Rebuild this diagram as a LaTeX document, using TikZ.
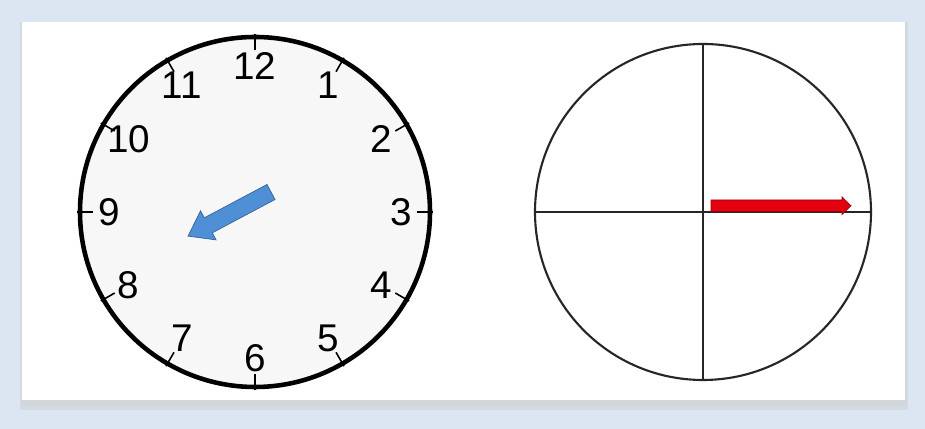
\documentclass[tikz,border=0pt]{standalone}
\usepackage{fontspec}
\setmainfont{Liberation Sans}
\usepackage{tikz}
\usetikzlibrary{calc}
\definecolor{panelblue}{HTML}{DCE6F2}
\definecolor{facegray}{HTML}{F7F7F7}
\definecolor{handblue}{HTML}{4F8FD6}
\definecolor{handred}{HTML}{E3000F}

\begin{document}
\begin{tikzpicture}
  \useasboundingbox (0,0) rectangle (18.5,8.58);
  \fill[panelblue] (0,0) rectangle (18.5,8.58);
  \fill[gray!45,opacity=0.35] (0.40,0.38) rectangle (18.16,8.14);
  \fill[gray!35,opacity=0.35] (0.42,0.46) rectangle (18.13,8.14);
  \fill[white] (0.44,0.58) rectangle (18.10,8.14);
  % left clock
  \coordinate (c1) at (5.10,4.34);
  \fill[facegray] (c1) circle (3.50);
  \foreach \h in {1,...,12}
    \draw[line width=0.9pt] ($(c1)+({90-30*\h}:3.24)$) -- ($(c1)+({90-30*\h}:3.56)$);
  \draw[line width=2.6pt] (c1) circle (3.50);
  \foreach \h in {1,...,12}
    \node[font=\fontsize{22}{22}\selectfont] (h\h) at ($(c1)+({90-30*\h}:2.92)$) {\h};
  \begin{scope}[shift={(5.42,4.74)},rotate=208]
    \fill[handblue,draw=handblue!70!black,line width=0.4pt]
      (0,-0.17) -- (1.42,-0.17) -- (1.42,-0.33) -- (1.88,0) -- (1.42,0.33) -- (1.42,0.17) -- (0,0.17) -- cycle;
  \end{scope}
  % right circle
  \coordinate (c2) at (14.06,4.34);
  \draw[line width=1.2pt,black!85] (c2) circle (3.36);
  \draw[line width=1.2pt,black!85] ($(c2)+(-3.36,0)$) -- ($(c2)+(3.36,0)$);
  \draw[line width=1.2pt,black!85] ($(c2)+(0,-3.36)$) -- ($(c2)+(0,3.36)$);
  \fill[handred,draw=handred!70!black,line width=0.4pt]
    (14.22,4.35) -- (16.84,4.35) -- (16.84,4.29) -- (17.02,4.465) -- (16.84,4.64) -- (16.84,4.58) -- (14.22,4.58) -- cycle;
\end{tikzpicture}
\end{document}
